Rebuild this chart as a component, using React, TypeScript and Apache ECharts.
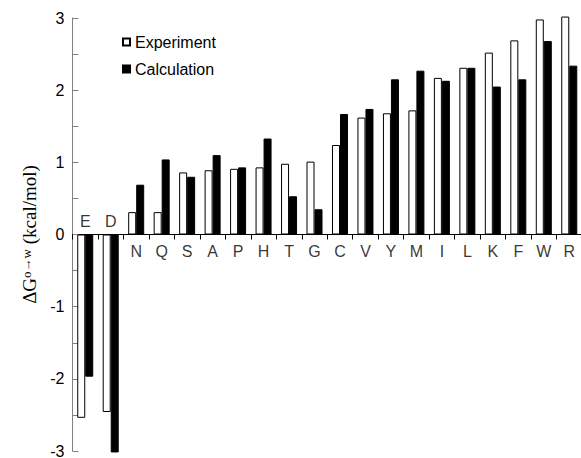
import React, { useEffect, useRef } from "react";
import * as echarts from "echarts";

const categories = ["E", "D", "N", "Q", "S", "A", "P", "H", "T", "G", "C", "V", "Y", "M", "I", "L", "K", "F", "W", "R"];
const experiment = [-2.54, -2.46, 0.31, 0.31, 0.86, 0.89, 0.91, 0.93, 0.98, 1.01, 1.24, 1.62, 1.68, 1.72, 2.17, 2.31, 2.52, 2.69, 2.98, 3.02];
const calculation = [-1.97, -3.02, 0.69, 1.04, 0.8, 1.1, 0.93, 1.33, 0.53, 0.35, 1.67, 1.74, 2.15, 2.27, 2.13, 2.31, 2.05, 2.15, 2.68, 2.34];
const yMin = -3;
const yMax = 3;
const yInterval = 0.5;

const sans = "Liberation Sans, Arial, sans-serif";
const serif = "Liberation Serif, Times New Roman, serif";

export default function App() {
  const ref = useRef<HTMLDivElement>(null);
  useEffect(() => {
    if (!ref.current) return;
    const chart = echarts.init(ref.current, undefined, { renderer: "svg" });
    const labelData = categories.map((c, i) => {
      const above = experiment[i] < 0 && calculation[i] < 0;
      return {
        value: [c, 0],
        label: { position: above ? "top" : "bottom", distance: above ? 5 : 9 },
      };
    });
    chart.setOption({
      animation: false,
      backgroundColor: "#ffffff",
      grid: {
        left: 72.5,
        top: 18,
        width: 509.5,
        height: 433,
        containLabel: false,
        outerBoundsMode: "none",
      },
      legend: {
        data: ["Experiment", "Calculation"],
        orient: "vertical",
        left: 117,
        top: 29,
        itemWidth: 7,
        itemHeight: 7,
        itemGap: 11,
        icon: "rect",
        textStyle: { fontFamily: sans, fontSize: 16, color: "#000" },
      },
      xAxis: {
        type: "category",
        data: categories,
        axisLine: { onZero: true, lineStyle: { color: "#000", width: 1 } },
        axisTick: { show: true, inside: false, length: 5, lineStyle: { color: "#000" } },
        axisLabel: { show: false },
        splitLine: { show: false },
      },
      yAxis: {
        type: "value",
        min: yMin,
        max: yMax,
        interval: yInterval,
        name: "{a|ΔG}{b|o→w}{a| (kcal/mol)}",
        nameLocation: "middle",
        nameGap: 34,
        nameTextStyle: {
          rich: {
            a: { fontFamily: serif, fontSize: 19, color: "#000" },
            b: { fontFamily: serif, fontSize: 13, color: "#000", verticalAlign: "top" },
          },
        },
        axisLine: { show: true, lineStyle: { color: "#808080", width: 1 } },
        axisTick: { show: true, inside: true, length: 6, lineStyle: { color: "#808080" } },
        axisLabel: {
          margin: 8,
          fontFamily: sans,
          fontSize: 16,
          color: "#000",
          formatter: (v: number) => (Number.isInteger(v) ? String(v) : ""),
        },
        splitLine: { show: false },
      },
      series: [
        {
          name: "Experiment",
          type: "bar",
          data: experiment,
          barWidth: 8,
          barGap: "0%",
          clip: false,
          itemStyle: { color: "#ffffff", borderColor: "#000", borderWidth: 1 },
        },
        {
          name: "Calculation",
          type: "bar",
          data: calculation,
          barWidth: 8,
          barGap: "0%",
          clip: false,
          itemStyle: { color: "#000000", borderColor: "#000", borderWidth: 1 },
        },
        {
          name: "labels",
          type: "scatter",
          data: labelData,
          symbolSize: 0,
          silent: true,
          z: 5,
          label: {
            show: true,
            fontFamily: sans,
            fontSize: 16,
            color: "#000",
            formatter: (p: any) => p.value[0],
          },
        },
      ],
    });
    return () => chart.dispose();
  }, []);
  return (
    <div
      ref={ref}
      style={{ position: "fixed", left: 0, top: 0, width: 581, height: 458, background: "#fff" }}
    />
  );
}
